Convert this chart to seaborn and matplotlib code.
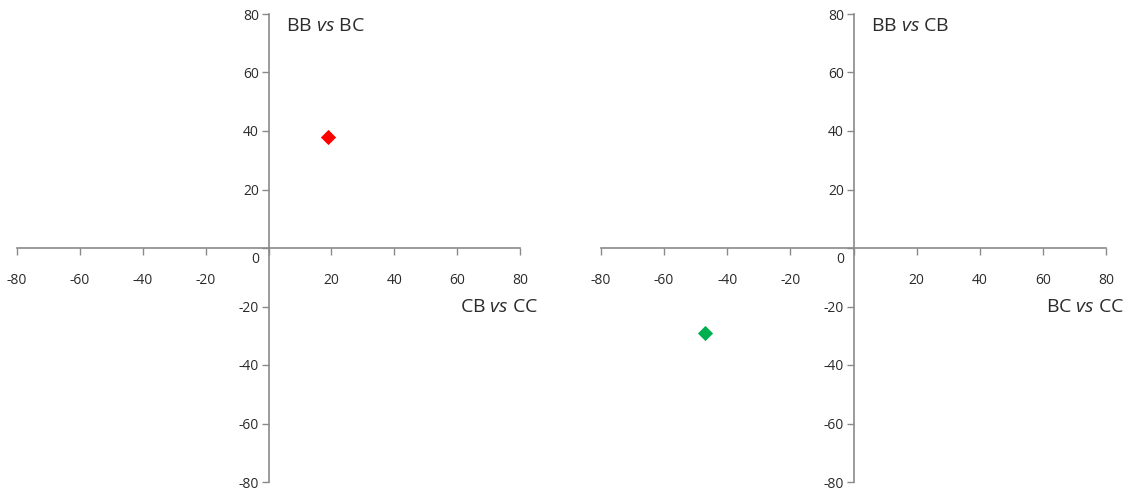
#Import packages

import matplotlib
matplotlib.use("Agg")
import matplotlib.pyplot as plt
import pandas as pd
import seaborn as sns

#Data

panels = ["left", "right"]
x_titles = ["CB $\\it{vs}$ CC", "BC $\\it{vs}$ CC"]
y_titles = ["BB $\\it{vs}$ BC", "BB $\\it{vs}$ CB"]
point_x = [19, -47]
point_y = [38, -29]
point_colors = ["#FF0000", "#00B050"]
ticks = [-80, -60, -40, -20, 0, 20, 40, 60, 80]

sns.set_style("white")
plt.rcParams['font.family'] = ['Open Sans', 'DejaVu Sans']
plt.rcParams['mathtext.fontset'] = 'custom'
plt.rcParams['mathtext.rm'] = 'Open Sans'
plt.rcParams['mathtext.it'] = 'Open Sans:italic'

fig = plt.figure(figsize=(11.35, 4.91), dpi=100)
positions = [[17 / 1135, 9 / 491, 503 / 1135, 468 / 491],
             [601 / 1135, 9 / 491, 505 / 1135, 468 / 491]]

axis_grey = "#8a8a8a"
text_col = "#2b2b2b"

for i in range(len(panels)):
    ax = fig.add_axes(positions[i])
    df = pd.DataFrame({"x": [point_x[i]], "y": [point_y[i]]})
    sns.scatterplot(data=df, x="x", y="y", marker="D", s=60, color=point_colors[i],
                    edgecolor=point_colors[i], linewidth=0, ax=ax, zorder=5, clip_on=False)

    ax.set_xlim(-80, 80)
    ax.set_ylim(-80, 80)

    #Axes crossing at the origin, like the Excel chart
    ax.spines['left'].set_position(('data', 0))
    ax.spines['bottom'].set_position(('data', 0))
    ax.spines['top'].set_visible(False)
    ax.spines['right'].set_visible(False)
    for s in ('left', 'bottom'):
        ax.spines[s].set_color(axis_grey)
        ax.spines[s].set_linewidth(1.2)

    ax.set_xticks(ticks)
    ax.set_yticks(ticks)
    ax.set_xticklabels([str(t) if t != 0 else "" for t in ticks])
    ax.set_yticklabels([str(t) if t != 0 else "" for t in ticks])
    ax.tick_params(axis='x', direction='out', length=5, width=1.0, color=axis_grey,
                   labelsize=10, labelcolor=text_col, pad=13, bottom=True)
    ax.tick_params(axis='y', direction='out', length=5, width=1.0, color=axis_grey,
                   labelsize=10, labelcolor=text_col, pad=2, left=True)
    ax.set_xlabel("")
    ax.set_ylabel("")

    #The zero label sits a little below and left of the origin
    ax.text(-4.1, -4.0, "0", ha='center', va='center', fontsize=10, color=text_col)

    ax.text(5.5, 76, y_titles[i], ha='left', va='center', fontsize=14, color=text_col)
    ax.text(86, -20, x_titles[i], ha='right', va='center', fontsize=14, color=text_col,
            clip_on=False)

fig.savefig("out.png", dpi=100)
